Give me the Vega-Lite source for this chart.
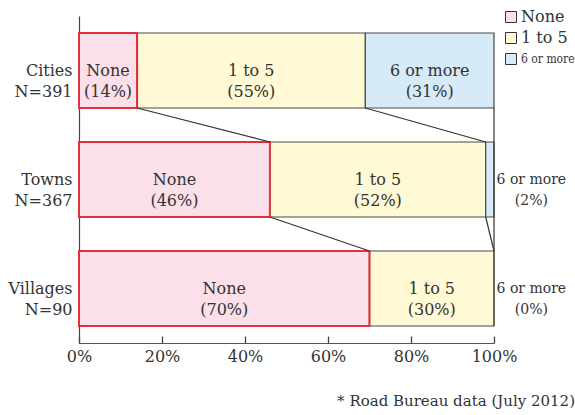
{
  "$schema": "https://vega.github.io/schema/vega-lite/v6.json",
  "autosize": "none",
  "width": 415,
  "height": 327,
  "padding": {"left": 79, "top": 16, "right": 81, "bottom": 72},
  "background": "white",
  "title": {
    "text": "* Road Bureau data (July 2012)",
    "orient": "bottom",
    "anchor": "end",
    "frame": "bounds",
    "offset": 30,
    "font": "DejaVu Serif",
    "fontSize": 15,
    "fontWeight": "normal",
    "color": "#333"
  },
  "config": {
    "view": {"stroke": null},
    "font": "DejaVu Serif"
  },
  "datasets": {
    "bars": [
      {"area": "Cities", "cat": "None", "pct": 14, "k": 1},
      {"area": "Cities", "cat": "1 to 5", "pct": 55, "k": 2},
      {"area": "Cities", "cat": "6 or more", "pct": 31, "k": 3},
      {"area": "Towns", "cat": "None", "pct": 46, "k": 1},
      {"area": "Towns", "cat": "1 to 5", "pct": 52, "k": 2},
      {"area": "Towns", "cat": "6 or more", "pct": 2, "k": 3},
      {"area": "Villages", "cat": "None", "pct": 70, "k": 1},
      {"area": "Villages", "cat": "1 to 5", "pct": 30, "k": 2},
      {"area": "Villages", "cat": "6 or more", "pct": 0, "k": 3}
    ],
    "links": [
      {"from": "Cities", "to": "Towns", "a": 14, "b": 46},
      {"from": "Cities", "to": "Towns", "a": 69, "b": 98},
      {"from": "Towns", "to": "Villages", "a": 46, "b": 70},
      {"from": "Towns", "to": "Villages", "a": 98, "b": 100},
      {"from": "Cities", "to": "Villages", "a": 100, "b": 100}
    ]
  },
  "encoding": {
    "y": {
      "field": "area",
      "type": "nominal",
      "scale": {"domain": ["Cities", "Towns", "Villages"], "paddingInner": 0.312, "paddingOuter": 0.156},
      "axis": {
        "title": null,
        "ticks": false,
        "domainColor": "#444",
        "domainWidth": 1.2,
        "labelFont": "DejaVu Serif",
        "labelFontSize": 16,
        "labelColor": "#333",
        "labelPadding": 7,
        "labelLineHeight": 21,
        "labelExpr": "datum.value == 'Cities' ? ['Cities', 'N=391'] : datum.value == 'Towns' ? ['Towns', 'N=367'] : ['Villages', 'N=90']"
      }
    }
  },
  "layer": [
    {
      "data": {"name": "bars"},
      "transform": [
        {"stack": "pct", "groupby": ["area"], "sort": [{"field": "k"}], "as": ["x0", "x1"]}
      ],
      "mark": {"type": "bar", "stroke": "#4a4a4a", "strokeWidth": 1.2},
      "encoding": {
        "x": {
          "field": "x0",
          "type": "quantitative",
          "scale": {"domain": [0, 100], "nice": false},
          "axis": {
            "title": null,
            "values": [0, 20, 40, 60, 80, 100],
            "labelExpr": "datum.value + '%'",
            "labelFlush": false,
            "grid": false,
            "tickSize": -7,
            "tickWidth": 1.3,
            "tickColor": "#444",
            "domainColor": "#555",
            "domainWidth": 1.2,
            "labelFont": "DejaVu Serif",
            "labelFontSize": 16,
            "labelColor": "#333",
            "labelPadding": 12
          }
        },
        "x2": {"field": "x1"},
        "fill": {
          "field": "cat",
          "type": "nominal",
          "scale": {"domain": ["None", "1 to 5", "6 or more"], "range": ["#fbdfe9", "#fffad5", "#d6eaf7"]},
          "legend": {
            "title": null,
            "orient": "none",
            "legendX": 424,
            "legendY": -7,
            "padding": 0,
            "symbolType": "square",
            "symbolSize": 121,
            "symbolStrokeColor": "#333",
            "symbolStrokeWidth": 1,
            "labelFont": "DejaVu Serif",
            "labelFontSize": 16,
            "labelColor": "#333",
            "labelOffset": 2,
            "rowPadding": 5,
            "encode": {
              "labels": {
                "update": {
                  "fontSize": {"signal": "datum.label == '6 or more' ? 12 : 16"},
                  "font": {"signal": "datum.label == '6 or more' ? 'DejaVu Serif Condensed' : 'DejaVu Serif'"}
                }
              }
            }
          }
        }
      }
    },
    {
      "data": {"name": "bars"},
      "transform": [
        {"stack": "pct", "groupby": ["area"], "sort": [{"field": "k"}], "as": ["x0", "x1"]},
        {"filter": "datum.cat == 'None'"}
      ],
      "mark": {"type": "bar", "filled": false, "stroke": "#e0313c", "strokeWidth": 2},
      "encoding": {
        "x": {"field": "x0", "type": "quantitative"},
        "x2": {"field": "x1"}
      }
    },
    {
      "data": {"name": "links"},
      "mark": {"type": "rule", "color": "#333", "strokeWidth": 1.2},
      "encoding": {
        "x": {"field": "a", "type": "quantitative"},
        "x2": {"field": "b"},
        "y": {"field": "from", "type": "nominal", "bandPosition": 1},
        "y2": {"field": "to", "bandPosition": 0}
      }
    },
    {
      "data": {"name": "bars"},
      "transform": [
        {"stack": "pct", "groupby": ["area"], "sort": [{"field": "k"}], "as": ["x0", "x1"]},
        {"calculate": "datum.pct < 5 ? 109 : (datum.x0 + datum.x1) / 2", "as": "lx"},
        {"calculate": "[datum.cat, '(' + datum.pct + '%)']", "as": "lab"},
        {"calculate": "datum.pct < 5 ? 14 : 16", "as": "fs"}
      ],
      "mark": {"type": "text", "font": "DejaVu Serif", "color": "#333", "lineHeight": 21, "baseline": "middle", "align": "center"},
      "encoding": {
        "x": {"field": "lx", "type": "quantitative"},
        "text": {"field": "lab"},
        "size": {"field": "fs", "type": "quantitative", "scale": null}
      }
    }
  ]
}
